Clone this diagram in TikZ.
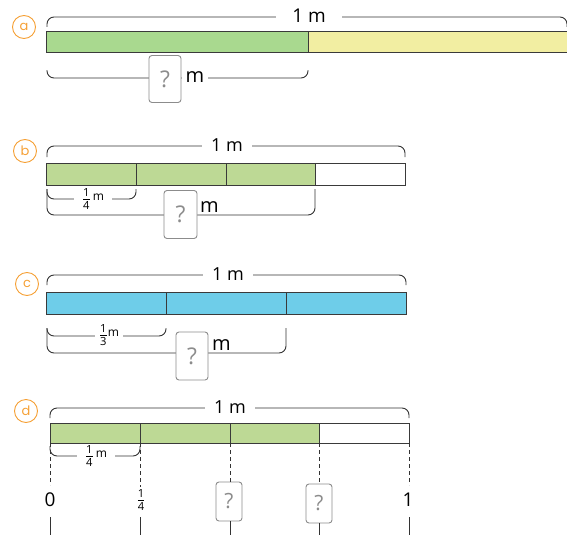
\documentclass[tikz,border=0pt]{standalone}
\usepackage{fontspec}
\usepackage{amsmath}
\setmainfont{Open Sans}
\newfontfamily\lblfont{Poppins}
\definecolor{orangec}{HTML}{F5A035}
\definecolor{greenA}{HTML}{A9D98F}
\definecolor{greenB}{HTML}{BDD995}
\definecolor{yellowA}{HTML}{F2EEA2}
\definecolor{blueC}{HTML}{6ECDE9}
\definecolor{barline}{HTML}{3A3A3A}
\definecolor{bracec}{HTML}{333333}
\definecolor{qgray}{HTML}{8C8C8C}
\newcommand\myfr[2]{{\fontsize{16}{16}\selectfont$\frac{\text{#1}}{\text{#2}}$}}
\newcommand\frm[2]{\myfr{#1}{#2}\raisebox{3pt}{\fontsize{12}{12}\selectfont\,m}}
\begin{document}
\begin{tikzpicture}[x=1pt,y=-1pt,
  lbl/.style={circle, draw=orangec, line width=0.9pt, minimum size=23pt, inner sep=0pt,
    text=orangec, font=\lblfont\fontsize{13}{13}\selectfont},
  barseg/.style={draw=barline, line width=0.9pt},
  brace/.style={draw=bracec, line width=0.9pt, rounded corners=7pt},
  qbox/.style={draw=qgray, line width=0.9pt, rounded corners=3pt, fill=white, text=qgray,
    minimum width=32pt, minimum height=47pt, inner sep=0pt, font=\fontsize{23}{23}\selectfont},
  qsmall/.style={qbox, minimum width=26pt, minimum height=39pt, font=\fontsize{21}{21}\selectfont},
  toplbl/.style={fill=white, inner ysep=1pt, text=black},
  bigm/.style={inner sep=1pt, font=\fontsize{20}{20}\selectfont},
  fraclbl/.style={fill=white, inner ysep=0pt, inner xsep=2pt},
  numlbl/.style={inner sep=0pt, font=\fontsize{19}{19}\selectfont},
  dashln/.style={draw=bracec, line width=0.9pt, dash pattern=on 4pt off 3pt},
  tickln/.style={draw=bracec, line width=0.9pt}
]
\useasboundingbox (0,0) rectangle (567,535);

% ---------- a ----------
\node[lbl] (la) at (24,27) {a};
\draw[barseg, fill=greenA] (46,31) rectangle (308,52);
\draw[barseg, fill=yellowA] (308,31) rectangle (572,52);
\draw[brace] (47,27) -- (47,17) -- (567,17) -- (567,27);
\node[toplbl, inner xsep=16pt, font=\fontsize{19}{19}\selectfont] (ta) at (309,16) {1 m};
\draw[brace] (47,70) -- (47,78) -- (308,78) -- (308,70);
\node[qbox] (qa) at (165,79) {?};
\node[bigm, fill=white, inner xsep=4pt, anchor=west] (ma) at (181.5,77) {m};

% ---------- b ----------
\node[lbl] (lb) at (25,151) {b};
\draw[barseg, fill=greenB] (46,163) rectangle (136,185);
\draw[barseg, fill=greenB] (136,163) rectangle (226,185);
\draw[barseg, fill=greenB] (226,163) rectangle (315,185);
\draw[barseg, fill=white] (315,163) rectangle (405,185);
\draw[brace] (47,157) -- (47,146) -- (405,146) -- (405,157);
\node[toplbl, inner xsep=9pt, font=\fontsize{18}{18}\selectfont] (tb) at (227,145) {1 m};
\draw[brace] (47,189) -- (47,199) -- (136,199) -- (136,189);
\node[fraclbl, minimum width=38pt] (fb) at (93,199) {\frm{1}{4}};
\draw[brace] (47,189) -- (47,215) -- (315,215) -- (315,189);
\node[qbox, minimum width=33pt, minimum height=48pt] (qb) at (180.5,214.5) {?};
\node[bigm, anchor=south west] (mb) at (199,214) {m};

% ---------- c ----------
\node[lbl] (lc) at (27,284) {c};
\draw[barseg, fill=blueC] (46,292) rectangle (166,314);
\draw[barseg, fill=blueC] (166,292) rectangle (286,314);
\draw[barseg, fill=blueC] (286,292) rectangle (406,314);
\draw[brace] (47,285) -- (47,275) -- (406,275) -- (406,285);
\node[toplbl, inner xsep=9pt, font=\fontsize{18}{18}\selectfont] (tc) at (228,274) {1 m};
\draw[brace] (47,328) -- (47,336) -- (166,336) -- (166,328);
\node[fraclbl, minimum width=28pt] (fc) at (109,335) {\myfr{1}{3}\raisebox{3pt}{\fontsize{12}{12}\selectfont m}};
\draw[brace] (47,328) -- (47,353) -- (286,353) -- (286,328);
\node[qbox, minimum height=48pt] (qc) at (192,356) {?};
\node[bigm, anchor=south west] (mc) at (211,352) {m};

% ---------- d ----------
\node[lbl] (ld) at (26,411) {d};
\draw[barseg, fill=greenB] (50,423) rectangle (140,443);
\draw[barseg, fill=greenB] (140,423) rectangle (230,443);
\draw[barseg, fill=greenB] (230,423) rectangle (319,443);
\draw[barseg, fill=white] (319,423) rectangle (409,443);
\draw[brace] (50,418) -- (50,408) -- (409,408) -- (409,418);
\node[toplbl, inner xsep=9pt, font=\fontsize{18}{18}\selectfont] (td) at (230,407) {1 m};
\draw[brace] (50,446) -- (50,456) -- (140,456) -- (140,446);
\node[fraclbl, minimum width=38pt] (fd) at (96,456) {\frm{1}{4}};

\coordinate (d0) at (50,443);
\coordinate (d1) at (140,443);
\coordinate (d2) at (230,443);
\coordinate (d3) at (319,443);
\coordinate (d4) at (409,443);
\coordinate (e0) at (50,485);
\coordinate (e1) at (140,487);
\coordinate (e4) at (409,485);
\node[qsmall] (q1) at (229,501.5) {?};
\node[qsmall] (q2) at (319,503.5) {?};
\draw[dashln] (d0) -- (e0);
\draw[dashln] (d1) -- (e1);
\draw[dashln] (d2) -- (d2 |- q1.north);
\draw[dashln] (d3) -- (q2.north);
\draw[dashln] (d4) -- (e4);

\node[numlbl] (n0) at (50,500) {0};
\node[inner sep=0pt] (n1) at (141,500) {\myfr{1}{4}};
\node[numlbl] (n4) at (408,500) {1};

\coordinate (b0) at (50,535);
\coordinate (b1) at (140,535);
\coordinate (b4) at (409,535);
\draw[tickln] (50,517) -- (b0);
\draw[tickln] (140,517) -- (b1);
\draw[tickln] (409,517) -- (b4);
\draw[tickln] (d2 |- q1.south) -- (d2 |- b0);
\draw[tickln] (q2.south) -- (q2.south |- b0);
\end{tikzpicture}
\end{document}
